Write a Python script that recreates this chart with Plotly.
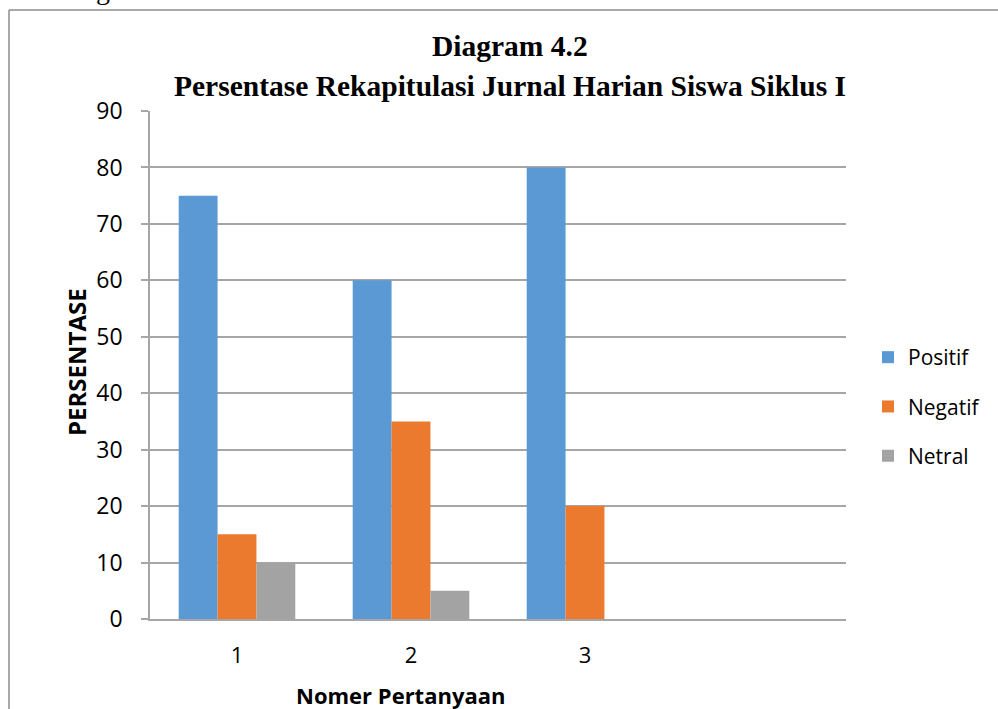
import plotly.graph_objects as go

categories = [1, 2, 3]
tick_labels = ["1", "2", "3"]
positif = [75, 60, 80]
negatif = [15, 35, 20]
netral = [10, 5, 0]
y_ticks = [0, 10, 20, 30, 40, 50, 60, 70, 80, 90]

W, H = 998, 709
L, R, T, B = 150, 152, 111, 90
pw, ph = W - L - R, H - T - B

SANS = "Open Sans, Noto Sans, sans-serif"
SERIF = "Liberation Serif, Times New Roman, serif"


def px_x(x):
    return (x - L) / pw


def px_y(y):
    return (H - B - y) / ph


fig = go.Figure()
series = [("Positif", positif, "#5a99d4"), ("Negatif", negatif, "#ec7a2e"), ("Netral", netral, "#a3a3a3")]
for name, vals, col in series:
    fig.add_trace(go.Bar(x=categories, y=vals, name=name, marker=dict(color=col, line=dict(width=0)),
                         legendgroup=name))

fig.update_layout(
    width=W, height=H,
    margin=dict(l=L, r=R, t=T, b=B),
    paper_bgcolor="white", plot_bgcolor="white",
    barmode="group", bargap=0.33, bargroupgap=0,
    font=dict(family=SANS, size=21, color="#000000"),
    showlegend=True,
    legend=dict(x=px_x(868), y=px_y(337), xanchor="left", yanchor="top",
                font=dict(size=21), tracegroupgap=19, itemwidth=30,
                bgcolor="rgba(0,0,0,0)"),
    xaxis=dict(range=[0.5, 4.5], tickvals=categories, ticktext=tick_labels, showgrid=False,
               showline=True, linecolor="#a6a6a6", linewidth=1.5, ticks="", tickfont=dict(size=22),
               ticklabelstandoff=16, zeroline=False, fixedrange=True),
    yaxis=dict(range=[0, 90], tickvals=y_ticks, showgrid=True, gridcolor="#a6a6a6", gridwidth=1.5,
               showline=True, linecolor="#a6a6a6", linewidth=1.5, ticks="outside", ticklen=7,
               tickcolor="#a6a6a6", tickwidth=1.5, tickfont=dict(size=23), ticklabelstandoff=14,
               zeroline=False, fixedrange=True),
)

# chart title
fig.add_annotation(text="<b>Diagram 4.2</b>", xref="paper", yref="paper", x=px_x(510), y=px_y(46),
                   xanchor="center", yanchor="middle", showarrow=False,
                   font=dict(family=SERIF, size=29.5))
fig.add_annotation(text="<b>Persentase Rekapitulasi Jurnal Harian Siswa Siklus I</b>", xref="paper",
                   yref="paper", x=px_x(510), y=px_y(86), xanchor="center", yanchor="middle",
                   showarrow=False, font=dict(family=SERIF, size=29.5))
# axis titles
fig.add_annotation(text="<b>PERSENTASE</b>", xref="paper", yref="paper", x=px_x(76), y=px_y(362),
                   xanchor="center", yanchor="middle", textangle=-90, showarrow=False,
                   font=dict(size=24))
fig.add_annotation(text="<b>Nomer Pertanyaan</b>", xref="paper", yref="paper", x=px_x(400), y=px_y(695),
                   xanchor="center", yanchor="middle", showarrow=False, font=dict(size=22))
# partial text at top (cut off by the page edge in the reference)
fig.add_annotation(text="g", xref="paper", yref="paper", x=px_x(103), y=px_y(-10),
                   xanchor="center", yanchor="middle", showarrow=False,
                   font=dict(family=SERIF, size=28))

# frame
fig.add_shape(type="line", xref="paper", yref="paper", x0=px_x(9), x1=px_x(9), y0=px_y(10), y1=px_y(712),
              line=dict(color="#8c8c8c", width=1.5))
fig.add_shape(type="line", xref="paper", yref="paper", x0=px_x(9), x1=px_x(1000), y0=px_y(10), y1=px_y(10),
              line=dict(color="#8c8c8c", width=1.5))

fig.write_html("out.html", config={"responsive": False, "displayModeBar": False},
               post_script="document.body.style.margin='0';document.body.style.overflow='hidden';")
